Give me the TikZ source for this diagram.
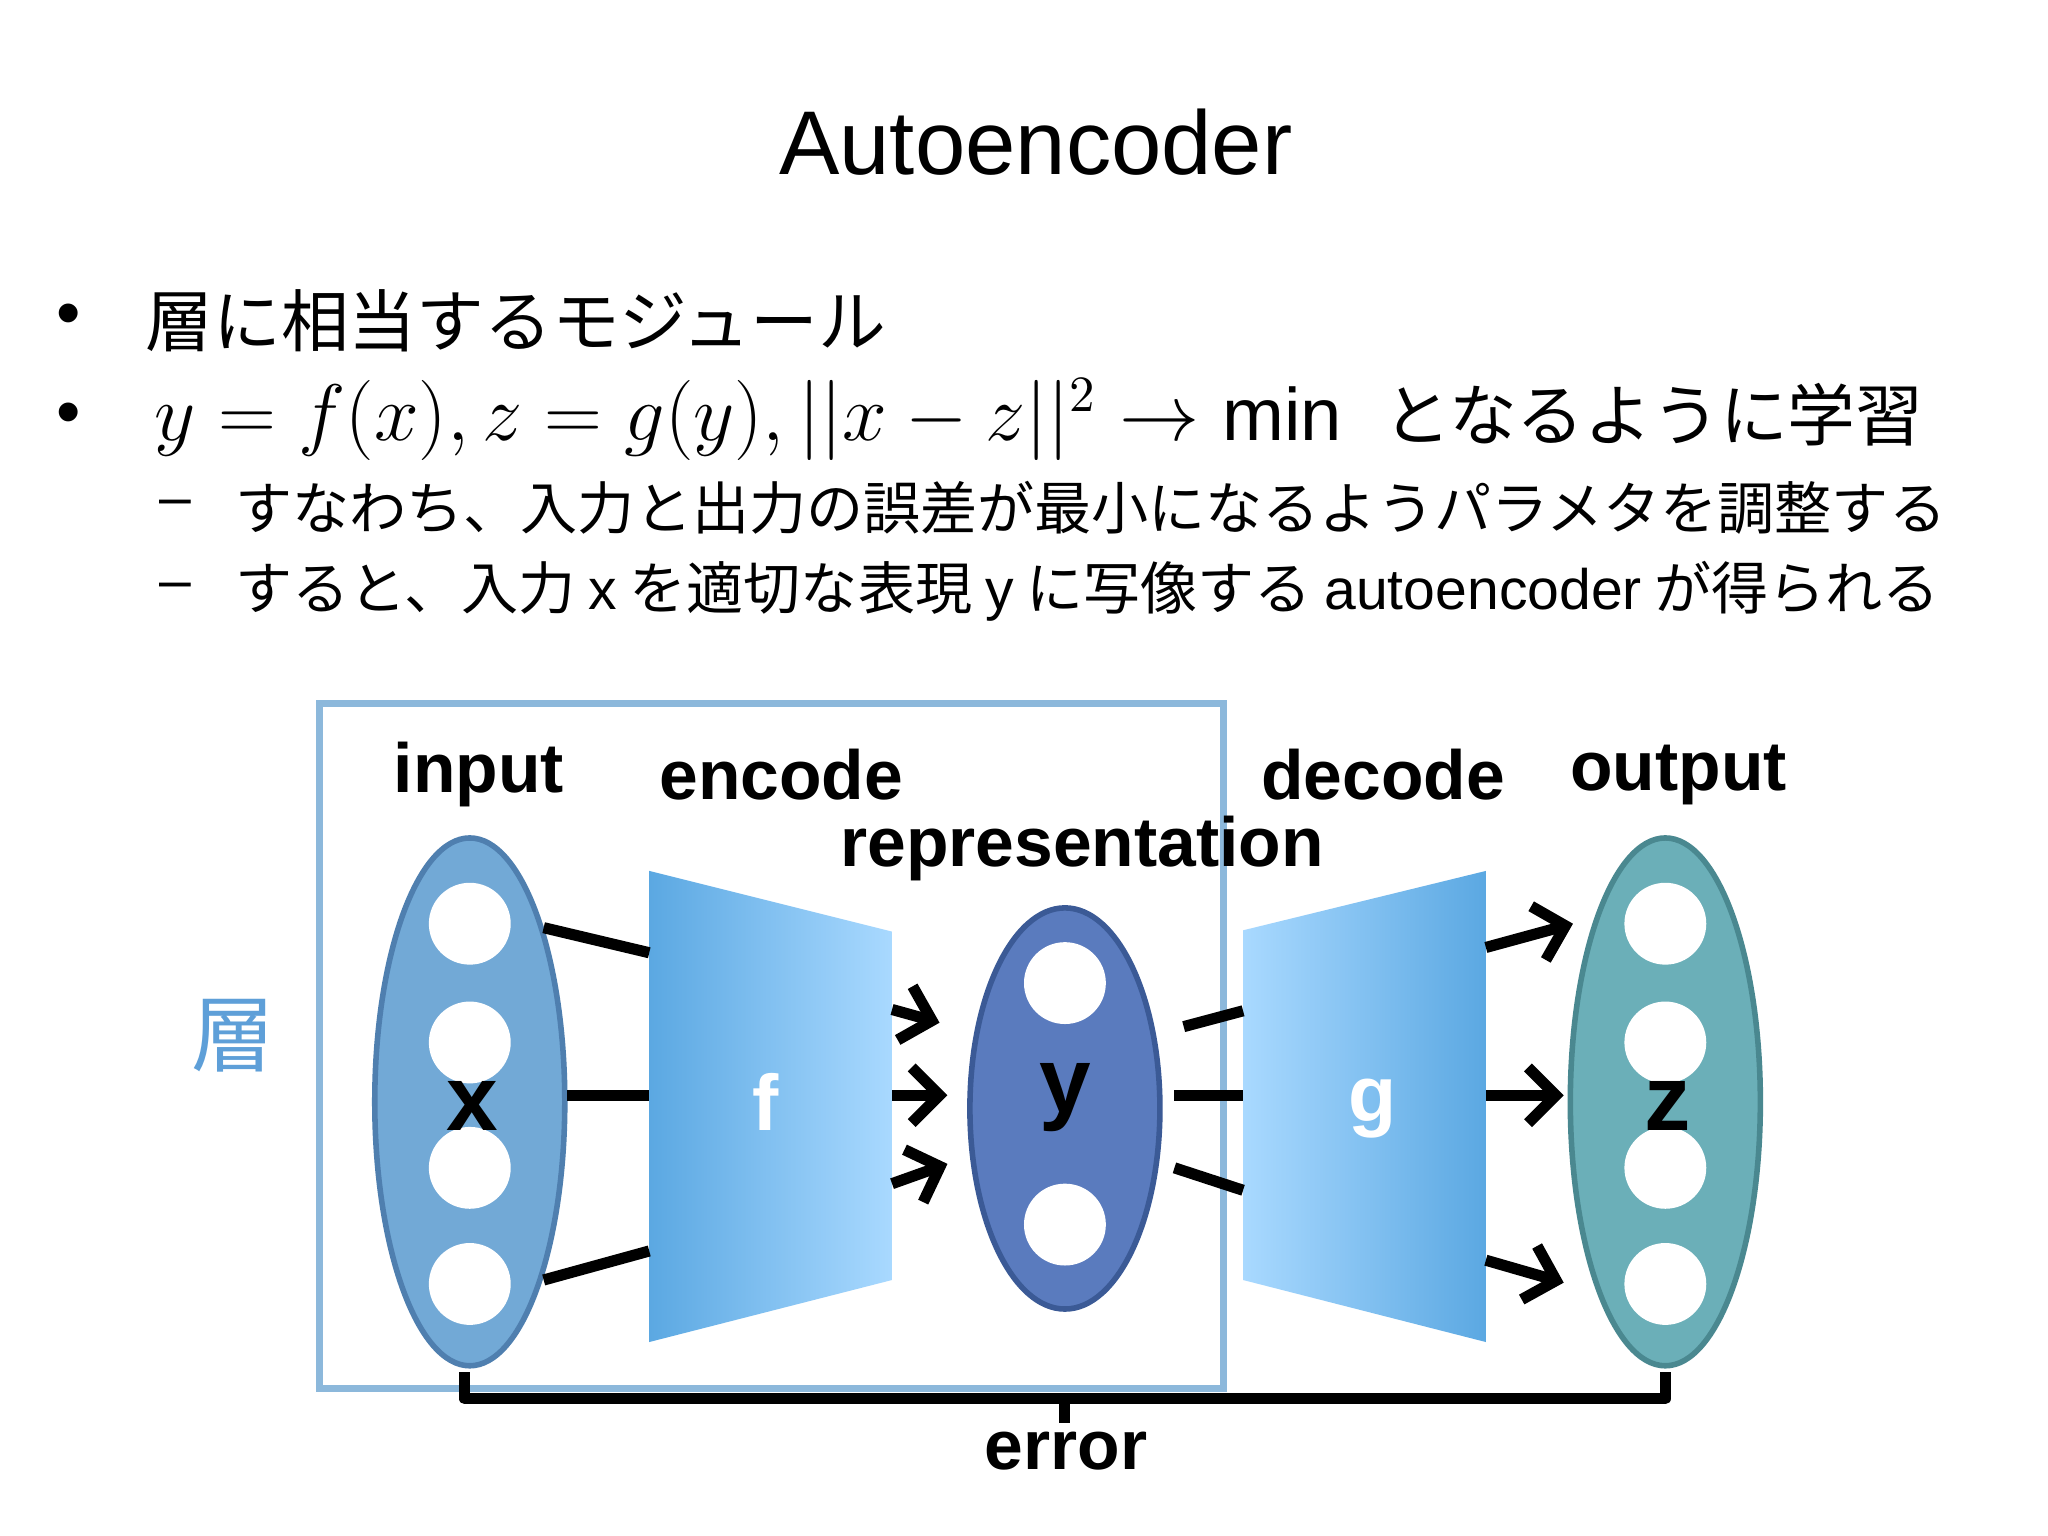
\documentclass[tikz,border=0pt]{standalone}
\usepackage{fontspec}
\setmainfont{Liberation Sans}
\newfontfamily\jp{Noto Sans CJK JP}
\usetikzlibrary{arrows.meta}
\definecolor{boxc}{HTML}{8CB8DB}
\definecolor{xfill}{HTML}{72A9D6}
\definecolor{xdraw}{HTML}{4F7FAF}
\definecolor{yfill}{HTML}{5A7BBE}
\definecolor{ydraw}{HTML}{3B5A96}
\definecolor{zfill}{HTML}{6BAFB8}
\definecolor{zdraw}{HTML}{4A8890}
\definecolor{tdark}{HTML}{5BA8E2}
\definecolor{tlight}{HTML}{A9D9FF}
\definecolor{kanji}{HTML}{5E9FD8}
\begin{document}
\begin{tikzpicture}[x=0.01cm,y=-0.01cm,
  unit/.style={circle,fill=white,minimum size=0.62cm,inner sep=0pt},
  layer/.style={ellipse,draw,line width=1.2pt,minimum width=1.44cm},
  lab/.style={font=\fontsize{15}{18}\selectfont\bfseries},
  conn/.style={line width=2.4pt},
  arr/.style={line width=2.4pt,-{Straight Barb[length=6pt,width=12pt]}},
  jtext/.style={anchor=west,font=\jp\fontsize{12.3}{14}\selectfont}]
\useasboundingbox (0,0) rectangle (1552,1164);
\fill[white] (0,0) rectangle (1552,1164);
% title and bullets
\node (title) at (785,108) {\fontsize{19.5}{23}\selectfont Autoencoder};
\node (b1) at (52,243) {\fontsize{15}{18}\selectfont •};
\node (b2) at (52,318) {\fontsize{15}{18}\selectfont •};
\node[anchor=west,font=\jp\fontsize{14.6}{17}\selectfont] (t1) at (98,243) {層に相当するモジュール};
\node[anchor=west,font=\fontsize{16}{19}\selectfont] (t2) at (105,318)
  {$y=f(x),z=g(y),||x-z||^2\rightarrow\min$\ \ {\jp\fontsize{14.6}{17}\selectfont となるように学習}};
\node (d1) at (133,385) {\fontsize{12.3}{14}\selectfont –};
\node (d2) at (133,448) {\fontsize{12.3}{14}\selectfont –};
\node[jtext] (t3) at (166,385) {すなわち、入力と出力の誤差が最小になるようパラメタを調整する};
\node[jtext] (t4) at (166,448) {すると、入力 {\fontfamily{}\rmfamily x} を適切な表現 {\rmfamily y} に写像する {\rmfamily autoencoder} が得られる};
% box
\draw[boxc,line width=1.5pt] (242,533) rectangle (927,1052);
% labels
\node[lab] (input) at (363,587) {input};
\node[lab] (encode) at (592,587) {encode};
\node[lab] (decode) at (1048,587) {decode};
\node[lab] (output) at (1272,587) {output};
\node[lab] (repr) at (820,643) {representation};
\node[text=kanji,font=\jp\fontsize{18}{20}\selectfont] (sou) at (177,785) {層};
% trapezoids
\shade[left color=tdark,right color=tlight] (492,660) -- (676,706) -- (676,970) -- (492,1017) -- cycle;
\shade[left color=tlight,right color=tdark] (942,705) -- (1126,660) -- (1126,1017) -- (942,970) -- cycle;
\node[text=white,font=\fontsize{17}{20}\selectfont\bfseries] (f) at (580,835) {f};
\node[text=white,font=\fontsize{17}{20}\selectfont\bfseries] (g) at (1040,840) {g};
% layers
\draw[xdraw,fill=xfill,line width=1.2pt] (356,835) ellipse [x radius=72,y radius=200];
\draw[ydraw,fill=yfill,line width=1.2pt] (807,840) ellipse [x radius=72,y radius=152];
\draw[zdraw,fill=zfill,line width=1.2pt] (1262,835) ellipse [x radius=72,y radius=200];
\foreach \i/\yy in {1/700,2/790,3/885,4/973}{
  \node[unit] (x\i) at (356,\yy) {};
  \node[unit] (z\i) at (1262,\yy) {};
}
\node[unit] (y1) at (807,745) {};
\node[unit] (y2) at (807,928) {};
\node[font=\fontsize{20}{22}\selectfont\bfseries] (xl) at (358,838) {x};
\node[font=\fontsize{20}{22}\selectfont\bfseries] (yl) at (807,832) {y};
\node[font=\fontsize{20}{22}\selectfont\bfseries] (zl) at (1264,838) {z};
% connector ends
\coordinate (fa) at (492,722); \coordinate (fb) at (492,830); \coordinate (fc) at (492,948);
\coordinate (fo1) at (676,765); \coordinate (fo2) at (676,830); \coordinate (fo3) at (676,897);
\coordinate (yi1) at (712,775); \coordinate (yi2) at (718,830); \coordinate (yi3) at (718,882);
\coordinate (yo1) at (897,778); \coordinate (yo2) at (890,830); \coordinate (yo3) at (890,885);
\coordinate (ga) at (942,766); \coordinate (gb) at (942,830); \coordinate (gc) at (942,902);
\coordinate (go1) at (1126,718); \coordinate (go2) at (1126,830); \coordinate (go3) at (1126,955);
\coordinate (zi1) at (1192,700); \coordinate (zi2) at (1185,830); \coordinate (zi3) at (1185,972);
\draw[conn] (412,703) -- (fa);
\draw[conn] (430,830) -- (fb);
\draw[conn] (412,970) -- (fc);
\draw[arr] (fo1) -- (yi1); \draw[arr] (fo2) -- (yi2); \draw[arr] (fo3) -- (yi3);
\draw[conn] (yo1) -- (ga); \draw[conn] (yo2) -- (gb); \draw[conn] (yo3) -- (gc);
\draw[arr] (go1) -- (zi1); \draw[arr] (go2) -- (zi2); \draw[arr] (go3) -- (zi3);
% error bracket
\coordinate (el) at (352,1040); \coordinate (er) at (1262,1040);
\draw[line width=2.4pt,line join=round] (el) -- (352,1060) -- (1262,1060) -- (er);
\draw[line width=2.4pt] (807,1060) -- (807,1078);
\node[lab] (err) at (808,1100) {error};
\end{tikzpicture}
\end{document}
